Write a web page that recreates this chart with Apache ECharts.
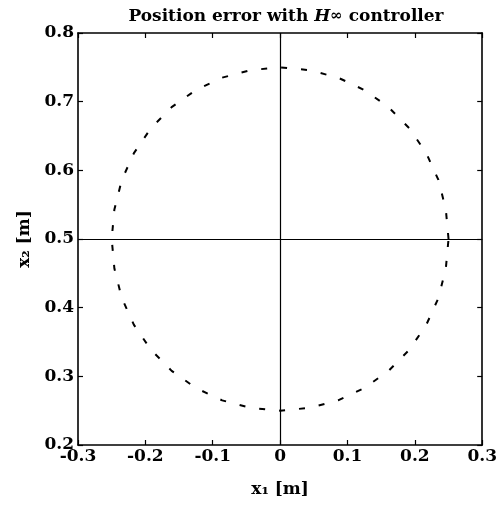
<!DOCTYPE html>
<html>
<head>
<meta charset="utf-8">
<script src="https://cdn.jsdelivr.net/npm/echarts@6/dist/echarts.min.js"></script>
<style>
  html, body { margin: 0; padding: 0; background: #fff; }
  #chart { width: 500px; height: 507px; }
</style>
</head>
<body>
<div id="chart"></div>
<script>
// Trajectory of the position error (x1, x2) in metres
const errX1 = [0.250, 0.246, 0.235, 0.217, 0.192, 0.161, 0.125, 0.086, 0.043, 0.000,
  -0.043, -0.086, -0.125, -0.161, -0.192, -0.217, -0.235, -0.246, -0.250,
  -0.246, -0.235, -0.217, -0.192, -0.161, -0.125, -0.086, -0.043, 0.000,
  0.043, 0.086, 0.125, 0.161, 0.192, 0.217, 0.235, 0.246, 0.250];
const errX2 = [0.500, 0.543, 0.586, 0.625, 0.661, 0.692, 0.717, 0.735, 0.746, 0.750,
  0.746, 0.735, 0.717, 0.692, 0.661, 0.625, 0.586, 0.543, 0.500,
  0.457, 0.414, 0.375, 0.339, 0.308, 0.283, 0.265, 0.254, 0.250,
  0.254, 0.265, 0.283, 0.308, 0.339, 0.375, 0.414, 0.457, 0.500];

// Reference cross-hair position
const refX1 = 0;
const refX2 = 0.5;

// Axis ranges and tick steps
const x1Range = [-0.3, 0.3];
const x2Range = [0.2, 0.8];
const tickStep = 0.1;

const serif = '"DejaVu Serif", "Liberation Serif", serif';
const fmt = v => (Math.round(v * 10) / 10).toString();

const points = errX1.map((x, i) => [x, errX2[i]]);

const tickLabel = { fontFamily: serif, fontWeight: 'bold', fontSize: 17, color: '#000' };
const axisLine = { show: true, onZero: false, lineStyle: { color: '#000', width: 1.6 } };
const tickIn = { show: true, inside: true, length: 5, lineStyle: { color: '#000', width: 1.2 } };

const chart = echarts.init(document.getElementById('chart'), null, { renderer: 'canvas' });
chart.setOption({
  animation: false,
  backgroundColor: '#fff',
  title: {
    text: 'Position error with {h|H}{inf|∞}{t| controller}',
    left: 281, top: 3, textAlign: 'center',
    textStyle: {
      fontFamily: serif, fontWeight: 'bold', fontSize: 17, color: '#000',
      rich: {
        h: { fontFamily: serif, fontWeight: 'bold', fontStyle: 'italic', fontSize: 17, color: '#000' },
        inf: { fontFamily: serif, fontWeight: 'bold', fontStyle: 'italic', fontSize: 15, color: '#000' },
        t: { fontFamily: serif, fontWeight: 'bold', fontSize: 17, color: '#000' }
      }
    }
  },
  grid: { left: 78, right: 14, top: 33, bottom: 62, containLabel: false },
  xAxis: [
    {
      type: 'value', min: x1Range[0], max: x1Range[1], interval: tickStep,
      position: 'bottom',
      name: 'x₁ [m]', nameLocation: 'middle', nameGap: 36,
      nameTextStyle: { fontFamily: serif, fontWeight: 'bold', fontSize: 17, color: '#000' },
      axisLine: axisLine, axisTick: tickIn,
      axisLabel: Object.assign({ margin: 3, formatter: fmt }, tickLabel),
      splitLine: { show: false }
    },
    {
      type: 'value', min: x1Range[0], max: x1Range[1], interval: tickStep,
      position: 'top',
      axisLine: axisLine, axisTick: tickIn, axisLabel: { show: false }, splitLine: { show: false }
    }
  ],
  yAxis: [
    {
      type: 'value', min: x2Range[0], max: x2Range[1], interval: tickStep,
      position: 'left',
      name: 'x₂ [m]', nameLocation: 'middle', nameGap: 45, nameRotate: 90,
      nameTextStyle: { fontFamily: serif, fontWeight: 'bold', fontSize: 17, color: '#000' },
      axisLine: axisLine, axisTick: tickIn,
      axisLabel: Object.assign({ margin: 4, formatter: fmt }, tickLabel),
      splitLine: { show: false }
    },
    {
      type: 'value', min: x2Range[0], max: x2Range[1], interval: tickStep,
      position: 'right',
      axisLine: axisLine, axisTick: tickIn, axisLabel: { show: false }, splitLine: { show: false }
    }
  ],
  series: [
    {
      type: 'line',
      data: points,
      showSymbol: false,
      smooth: false,
      lineStyle: { color: '#000', width: 2, type: [6, 14] },
      markLine: {
        silent: true,
        symbol: ['none', 'none'],
        label: { show: false },
        lineStyle: { color: '#000', width: 1.2, type: 'solid' },
        data: [{ xAxis: refX1 }, { yAxis: refX2 }]
      },
      z: 3
    }
  ]
});
</script>
</body>
</html>
